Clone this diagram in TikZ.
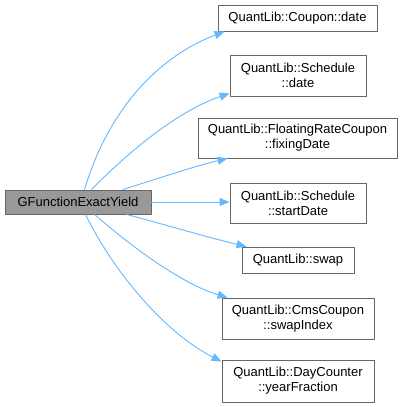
\documentclass[tikz,border=0pt]{standalone}
\usepackage{fontspec}
\setmainfont{Liberation Sans}
\usetikzlibrary{arrows.meta}

\definecolor{edgeblue}{HTML}{63B8FF}
\definecolor{boxline}{HTML}{666666}
\definecolor{rootfill}{HTML}{999999}

\begin{document}
\begin{tikzpicture}[x=1pt, y=-1pt, line join=round,
  fn/.style={draw=boxline, line width=0.9pt, fill=white, inner sep=0pt,
             align=center, font=\fontsize{13}{15}\selectfont},
  root/.style={fn, fill=rootfill},
  call/.style={draw=edgeblue, line width=0.9pt,
               -{Triangle[length=10pt,width=8pt]}}]

  %% ════ 节点 ════
  \node[root, minimum width=146pt, minimum height=24pt] (gfun) at (78.0,202.0) {GFunctionExactYield};
  \node[fn, minimum width=159pt, minimum height=26pt] (cdate)  at (297.5,18.0)  {QuantLib::Coupon::date};
  \node[fn, minimum width=136pt, minimum height=41pt] (sdate)  at (298.0,75.5)  {QuantLib::Schedule\\::date};
  \node[fn, minimum width=199pt, minimum height=40pt] (fixing) at (297.5,138.0) {QuantLib::FloatingRateCoupon\\::fixingDate};
  \node[fn, minimum width=136pt, minimum height=40pt] (start)  at (298.0,203.0) {QuantLib::Schedule\\::startDate};
  \node[fn, minimum width=112pt, minimum height=26pt] (swap)   at (298.0,260.0) {QuantLib::swap};
  \node[fn, minimum width=152pt, minimum height=41pt] (swapix) at (298.0,318.5) {QuantLib::CmsCoupon\\::swapIndex};
  \node[fn, minimum width=152pt, minimum height=42pt] (yfrac)  at (298.0,381.0) {QuantLib::DayCounter\\::yearFraction};

  %% ════ 调用边（三段式曲线）════
  \draw[call] ([xshift=80]gfun.north west) .. controls (105.0,120.0) and (150.0,60.0) .. ([xshift=7]cdate.south west);
  \draw[call] ([xshift=87]gfun.north west) .. controls (130.0,150.0) and (180.0,110.0) .. ([yshift=3]sdate.south west);
  \draw[call] ([xshift=118]gfun.north west) .. controls (160.0,178.0) and (195.0,166.0) .. ([xshift=30]fixing.south west);
  \draw[call] (gfun.east) -- (gfun.east -| start.west);
  \draw[call] ([xshift=122]gfun.south west) .. controls (170.0,226.0) and (210.0,238.0) .. ([xshift=5]swap.north west);
  \draw[call] ([xshift=90]gfun.south west) .. controls (135.0,250.0) and (185.0,285.0) .. ([xshift=6]swapix.north west);
  \draw[call] ([xshift=81]gfun.south west) .. controls (110.0,265.0) and (160.0,330.0) .. ([yshift=-2]yfrac.north west);

  % 钉死画布
  \pgfresetboundingbox
  \path[use as bounding box] (0,0) rectangle (403,407);
\end{tikzpicture}
\end{document}
